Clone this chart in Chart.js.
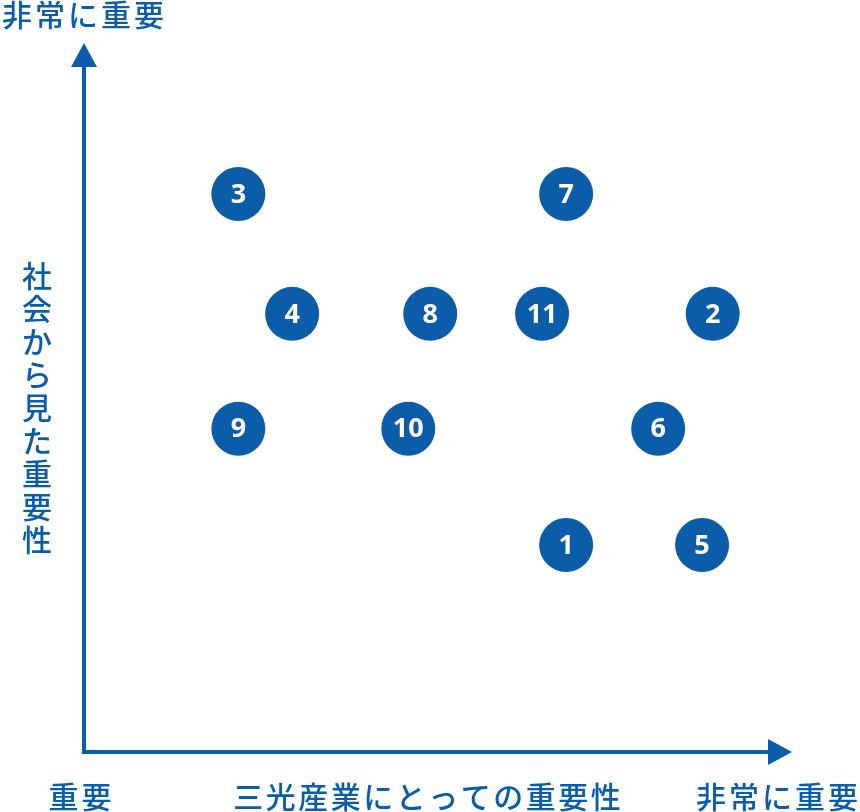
<!DOCTYPE html>
<html lang="ja">
<head>
<meta charset="utf-8">
<script src="https://cdn.jsdelivr.net/npm/chart.js@4"></script>
<style>
  html, body { margin: 0; padding: 0; background: #fff; }
  #wrap { width: 860px; height: 812px; }
</style>
</head>
<body>
<div id="wrap"><canvas id="chart" width="860" height="812"></canvas></div>
<script>
// テーマ番号と位置（横：三光産業にとっての重要性、縦：社会から見た重要性）
const themes = ['1', '2', '3', '4', '5', '6', '7', '8', '9', '10', '11']
const companyScore = [68.1, 88.8, 21.8, 29.4, 87.3, 81.1, 68.1, 48.9, 21.8, 45.8, 64.7]
const societyScore = [29.2, 61.8, 78.7, 61.8, 29.2, 45.6, 78.7, 61.8, 45.6, 45.6, 61.8]

const xTitle = '三光産業にとっての重要性'
const yTitle = '社会から見た重要性'
const lowLabel = '重要'
const highLabel = '非常に重要'

const blue = '#0b5ca9'
const jpFont = '"Noto Sans CJK JP", "Noto Sans", sans-serif'

let points = themes.map((t, i) => ({ x: companyScore[i], y: societyScore[i] }))

// 文字を1文字ずつ、字間をあけて描く
function spacedText(ctx, text, cx, cy, size, gap, vertical) {
    let chars = [...text]
    let step = size + gap
    let total = step * chars.length - gap
    chars.forEach((c, i) => {
        if (vertical) ctx.fillText(c, cx, cy - total / 2 + step * i + size / 2)
        else ctx.fillText(c, cx - total / 2 + step * i + size / 2, cy)
    })
}

const axesPlugin = {
    id: 'arrowAxes',
    beforeDatasetsDraw(chart) {
        const ctx = chart.ctx
        const a = chart.chartArea
        ctx.save()
        ctx.strokeStyle = blue
        ctx.fillStyle = blue
        ctx.lineWidth = 4
        // 軸線
        ctx.beginPath()
        ctx.moveTo(a.left, a.top + 20)
        ctx.lineTo(a.left, a.bottom)
        ctx.lineTo(a.right - 20, a.bottom)
        ctx.stroke()
        // 矢印
        ctx.beginPath()
        ctx.moveTo(a.left, a.top)
        ctx.lineTo(a.left - 13, a.top + 24)
        ctx.lineTo(a.left + 13, a.top + 24)
        ctx.closePath()
        ctx.fill()
        ctx.beginPath()
        ctx.moveTo(a.right, a.bottom)
        ctx.lineTo(a.right - 24, a.bottom - 13)
        ctx.lineTo(a.right - 24, a.bottom + 13)
        ctx.closePath()
        ctx.fill()

        // 軸ラベル
        ctx.font = '500 30px ' + jpFont
        ctx.textAlign = 'center'
        ctx.textBaseline = 'middle'
        spacedText(ctx, highLabel, 83, 15, 30, 3, false)
        spacedText(ctx, yTitle, 37, 408, 30, 3, true)
        spacedText(ctx, lowLabel, 80, 797, 30, 3, false)
        spacedText(ctx, xTitle, 427, 797, 30, 2.5, false)
        spacedText(ctx, highLabel, 777, 797, 30, 3, false)
        ctx.restore()
    },
    afterDatasetsDraw(chart) {
        const ctx = chart.ctx
        const meta = chart.getDatasetMeta(0)
        ctx.save()
        ctx.fillStyle = '#fff'
        ctx.font = '700 27px "Open Sans", "Noto Sans", sans-serif'
        ctx.textAlign = 'center'
        ctx.textBaseline = 'middle'
        meta.data.forEach((p, i) => {
            ctx.fillText(themes[i], p.x, p.y + 1)
        })
        ctx.restore()
    }
}

new Chart(document.getElementById('chart'), {
    type: 'scatter',
    data: {
        labels: themes,
        datasets: [{
            data: points,
            backgroundColor: blue,
            borderWidth: 0,
            pointRadius: 27,
            pointHoverRadius: 27
        }]
    },
    options: {
        responsive: false,
        animation: false,
        layout: { padding: { left: 84, right: 68, top: 43, bottom: 60 } },
        plugins: {
            legend: { display: false },
            tooltip: { enabled: false }
        },
        scales: {
            x: { type: 'linear', min: 0, max: 100, display: false },
            y: { type: 'linear', min: 0, max: 100, display: false }
        }
    },
    plugins: [axesPlugin]
})
</script>
</body>
</html>
